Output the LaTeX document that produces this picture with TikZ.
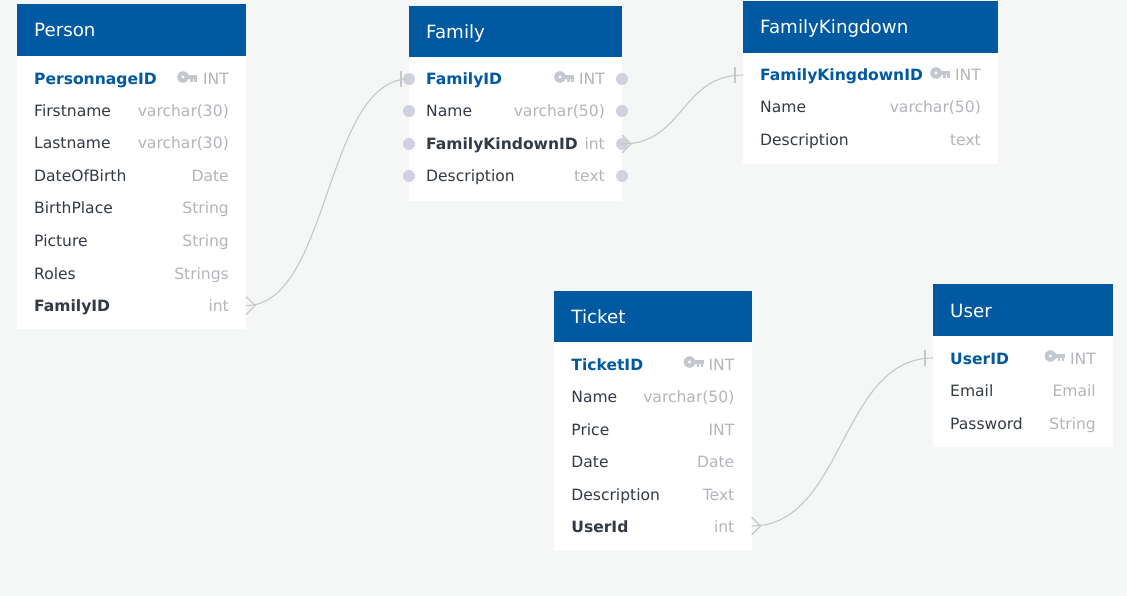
\documentclass[tikz,border=0pt]{standalone}
\usepackage{fontspec}
\setmainfont{DejaVu Sans}
\definecolor{bgc}{HTML}{F5F7F6}
\definecolor{headc}{HTML}{0059A1}
\definecolor{textc}{HTML}{343A45}
\definecolor{typec}{HTML}{B2B5B9}
\definecolor{keyc}{HTML}{C3C8D0}
\definecolor{dotc}{HTML}{D1D1DD}
\definecolor{linkc}{HTML}{C6C8C7}
\tikzset{
  headbox/.style={fill=headc,draw=none,inner sep=0pt,outer sep=0pt},
  bodybox/.style={fill=white,draw=none,inner sep=0pt,outer sep=0pt},
  titletext/.style={text=white,inner sep=0pt,anchor=base west,font=\fontsize{18.25}{22}\selectfont},
  rowbox/.style={draw=none,inner sep=0pt,outer sep=0pt},
  nametext/.style={text=textc,inner sep=0pt,anchor=base west,font=\fontsize{15.55}{18}\selectfont},
  fkname/.style={nametext,font=\fontsize{15.55}{18}\selectfont\bfseries},
  pkname/.style={nametext,text=headc,font=\fontsize{15.55}{18}\selectfont\bfseries},
  typetext/.style={text=typec,inner sep=0pt,anchor=base east,font=\fontsize{15.55}{18}\selectfont},
  rowdot/.style={circle,fill=dotc,draw=none,minimum size=12pt,inner sep=0pt},
  link/.style={draw=linkc,line width=1.1pt},
}
% table: id, left, right, header top, header bottom, body bottom, title
\newcommand{\dbtable}[7]{%
  \node[bodybox,minimum width=#3pt-#2pt,minimum height=#6pt-#5pt] (#1body) at ({(#2+#3)/2},{(#5+#6)/2}) {};
  \node[headbox,minimum width=#3pt-#2pt,minimum height=#5pt-#4pt] (#1head) at ({(#2+#3)/2},{(#4+#5)/2}) {};
  \node[titletext] (#1title) at ({#2+17},{(#4+#5)/2+7}) {#7};
}
% row: id, left, right, y, name style, name, type
\newcommand{\dbrow}[7]{%
  \node[rowbox,minimum width=#3pt-#2pt,minimum height=32pt] (#1) at ({(#2+#3)/2},#4) {};
  \node[#5] (#1name) at ({#2+17},{#4+6}) {#6};
  \node[typetext] (#1type) at ({#3-17},{#4+6}) {#7};
}
% key icon: right edge of the icon, row y
\newcommand{\dbkey}[2]{%
  \fill[keyc,even odd rule] ({#1-14},{#2-2}) circle (5.8) ({#1-14},{#2-2}) circle (1.9);
  \fill[keyc] ({#1-10},{#2-3.8}) rectangle (#1,{#2-0.1});
  \fill[keyc] ({#1-6.8},{#2-1}) rectangle ({#1-4.2},{#2+3.4});
  \fill[keyc] ({#1-3},{#2-1}) rectangle ({#1-0.5},{#2+3.4});
}
\begin{document}
\begin{tikzpicture}[x=1pt,y=-1pt]
\useasboundingbox (0,0) rectangle (1127,596);
\fill[bgc] (0,0) rectangle (1127,596);

\dbtable{person}{17}{246}{4}{56}{329}{Person}
\dbrow{pId}{17}{246}{79}{pkname}{PersonnageID}{INT}
\dbkey{197}{79}
\dbrow{pFirst}{17}{246}{111}{nametext}{Firstname}{varchar(30)}
\dbrow{pLast}{17}{246}{143}{nametext}{Lastname}{varchar(30)}
\dbrow{pBirth}{17}{246}{176}{nametext}{DateOfBirth}{Date}
\dbrow{pPlace}{17}{246}{208}{nametext}{BirthPlace}{String}
\dbrow{pPic}{17}{246}{241}{nametext}{Picture}{String}
\dbrow{pRoles}{17}{246}{273}{nametext}{Roles}{Strings}
\dbrow{pFam}{17}{246}{305.6}{fkname}{FamilyID}{int}

\dbtable{family}{409}{622}{6}{57}{201}{Family}
\dbrow{fId}{409}{622}{79}{pkname}{FamilyID}{INT}
\dbkey{574}{79}
\dbrow{fName}{409}{622}{111}{nametext}{Name}{varchar(50)}
\dbrow{fKing}{409}{622}{144}{fkname}{FamilyKindownID}{int}
\dbrow{fDesc}{409}{622}{176}{nametext}{Description}{text}
\foreach \r in {fId,fName,fKing,fDesc}{
  \node[rowdot] at (\r.west) {};
  \node[rowdot] at (\r.east) {};
}

\dbtable{king}{743}{998}{1}{53}{164}{FamilyKingdown}
\dbrow{kId}{743}{998}{75}{pkname}{FamilyKingdownID}{INT}
\dbkey{950}{75}
\dbrow{kName}{743}{998}{107}{nametext}{Name}{varchar(50)}
\dbrow{kDesc}{743}{998}{140}{nametext}{Description}{text}

\dbtable{ticket}{554.2}{751.5}{291}{342}{550}{Ticket}
\dbrow{tId}{554.2}{751.5}{364}{pkname}{TicketID}{INT}
\dbkey{703.5}{364}
\dbrow{tName}{554.2}{751.5}{396}{nametext}{Name}{varchar(50)}
\dbrow{tPrice}{554.2}{751.5}{429}{nametext}{Price}{INT}
\dbrow{tDate}{554.2}{751.5}{461}{nametext}{Date}{Date}
\dbrow{tDesc}{554.2}{751.5}{494}{nametext}{Description}{Text}
\dbrow{tUser}{554.2}{751.5}{526}{fkname}{UserId}{int}

\dbtable{user}{933}{1113}{284}{336}{447}{User}
\dbrow{uId}{933}{1113}{358}{pkname}{UserID}{INT}
\dbkey{1064.5}{358}
\dbrow{uMail}{933}{1113}{390}{nametext}{Email}{Email}
\dbrow{uPass}{933}{1113}{423}{nametext}{Password}{String}

% connectors
\draw[link] (pFam.east) .. controls +(84,0) and +(-84,0) .. (fId.west);
\draw[link] (fKing.east) .. controls +(62,0) and +(-62,0) .. (kId.west);
\draw[link] (tUser.east) .. controls +(93,0) and +(-93,0) .. (uId.west);

% crow's feet (many side)
\foreach \r in {pFam,fKing,tUser}{
  \draw[link] (\r.east) ++(0,-9) -- ++(9,9) -- ++(-9,9);
}
% bars (one side)
\foreach \r in {fId,kId,uId}{
  \draw[link] (\r.west) ++(-8,-8) -- ++(0,16);
}
\end{tikzpicture}
\end{document}
